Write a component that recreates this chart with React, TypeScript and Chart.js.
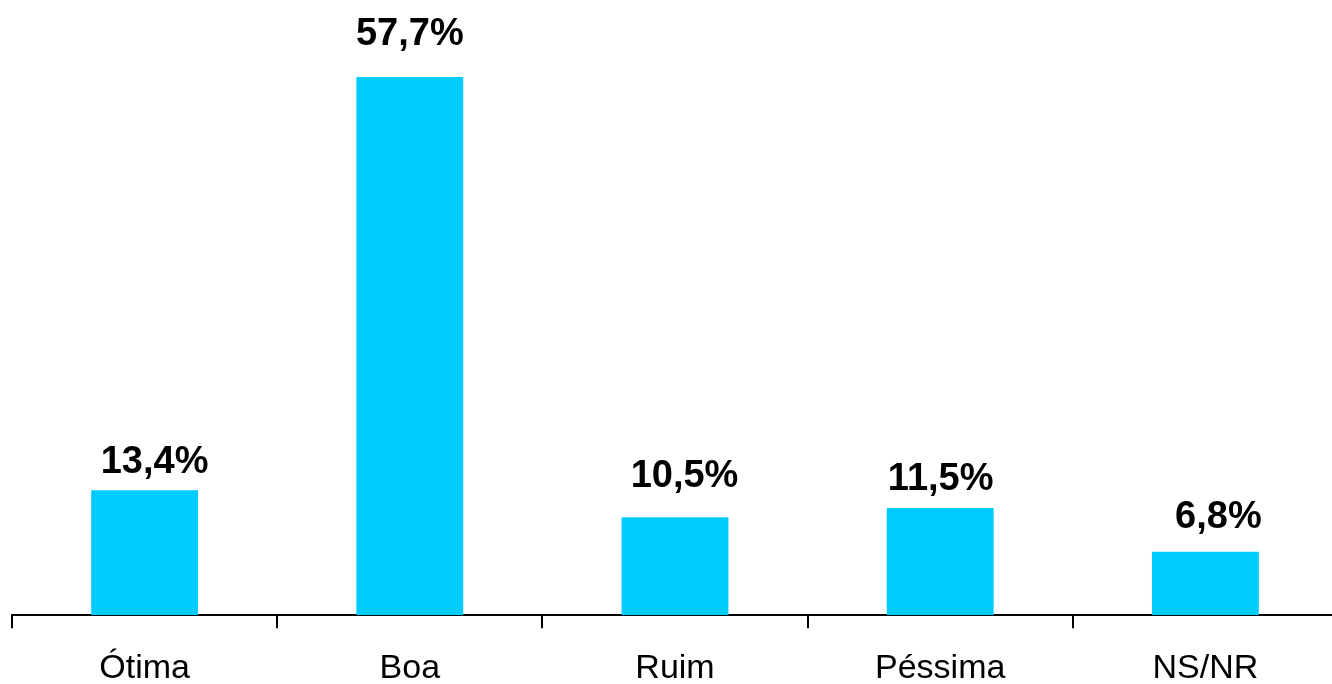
import React, { useEffect, useRef } from "react";
import { Chart, registerables } from "chart.js";

Chart.register(...registerables);

const categories = ["Ótima", "Boa", "Ruim", "Péssima", "NS/NR"];
const values = [13.4, 57.7, 10.5, 11.5, 6.8];
const valueLabels = ["13,4%", "57,7%", "10,5%", "11,5%", "6,8%"];

// label placement tweaks (style only): horizontal shift and gap above the bar top
const labelDx = [10, 0, 9.5, 0.5, 13];
const labelGap = [17, 32, 30, 18, 24];

const FONT = '"Liberation Sans", Arial, Helvetica, sans-serif';

const valueLabelPlugin = {
  id: "valueLabels",
  afterDatasetsDraw(chart: any) {
    const ctx = chart.ctx;
    const meta = chart.getDatasetMeta(0);
    ctx.save();
    ctx.font = `bold 38px ${FONT}`;
    ctx.fillStyle = "#000000";
    ctx.textAlign = "center";
    ctx.textBaseline = "alphabetic";
    meta.data.forEach((bar: any, i: number) => {
      ctx.fillText(valueLabels[i], bar.x + labelDx[i], bar.y - labelGap[i]);
    });
    ctx.restore();
  },
};

export default function App() {
  const canvasRef = useRef<HTMLCanvasElement | null>(null);

  useEffect(() => {
    if (!canvasRef.current) return;
    const chart = new Chart(canvasRef.current, {
      type: "bar",
      data: {
        labels: categories,
        datasets: [
          {
            data: values,
            backgroundColor: "#00CCFF",
            borderWidth: 0,
            barPercentage: 0.403,
            categoryPercentage: 1,
          },
        ],
      },
      options: {
        animation: false,
        responsive: true,
        maintainAspectRatio: false,
        layout: { padding: { left: 12, right: 7, top: 9, bottom: 0 } },
        plugins: {
          legend: { display: false },
          tooltip: { enabled: false },
        },
        scales: {
          x: {
            grid: {
              display: true,
              drawOnChartArea: false,
              drawTicks: true,
              tickLength: 13,
              color: "#000000",
              lineWidth: 2,
              offset: true,
            },
            border: { display: true, color: "#000000", width: 2 },
            ticks: {
              color: "#000000",
              padding: 20,
              font: { family: FONT, size: 34 },
              maxRotation: 0,
              autoSkip: false,
            },
          },
          y: {
            display: false,
            min: 0,
            max: 65,
          },
        },
      },
      plugins: [valueLabelPlugin],
    });
    return () => chart.destroy();
  }, []);

  return (
    <div
      style={{
        position: "fixed",
        left: 0,
        top: 0,
        width: "1332px",
        height: "684px",
        overflow: "hidden",
        background: "#ffffff",
      }}
    >
      <div style={{ position: "relative", width: "1345px", height: "709px" }}>
        <canvas ref={canvasRef} />
      </div>
    </div>
  );
}
